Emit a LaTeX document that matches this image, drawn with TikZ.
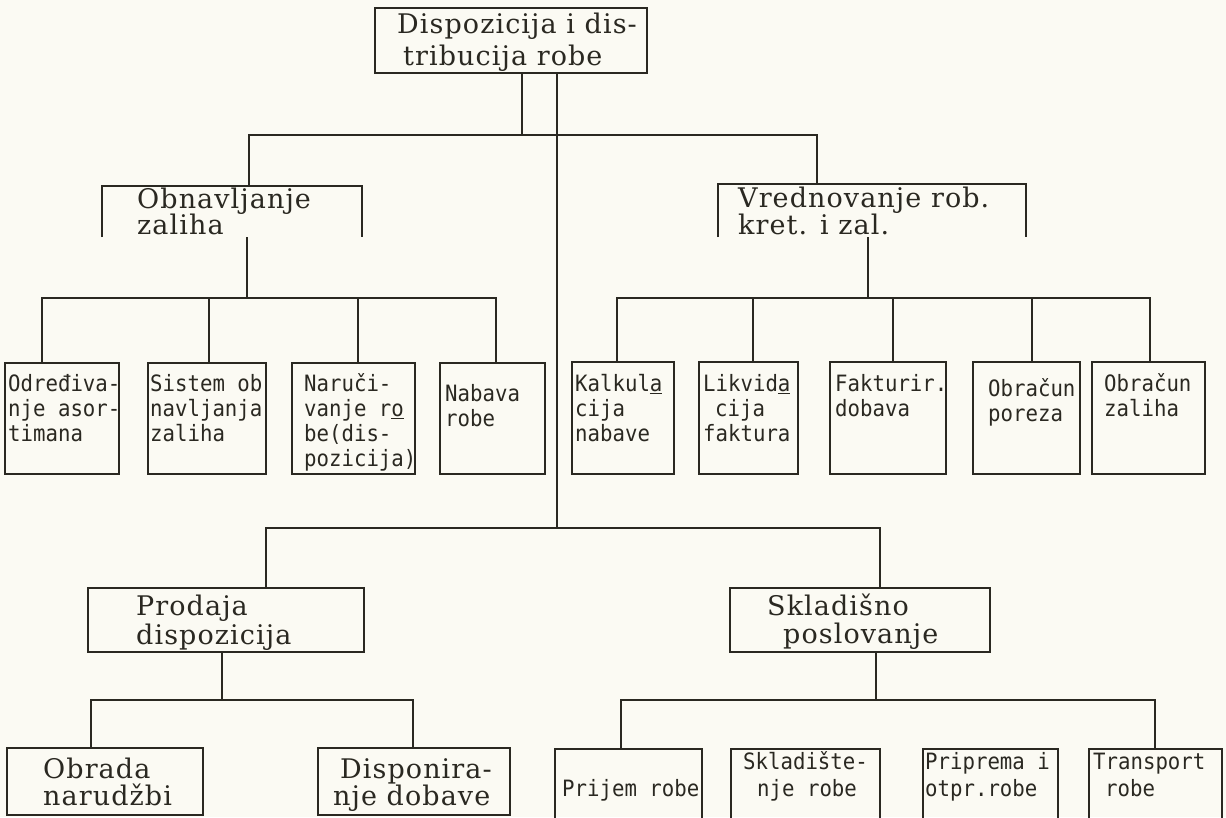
\documentclass[tikz,border=0pt]{standalone}
\usepackage{fontspec}
\newfontfamily\bigf[LetterSpace=4]{DejaVu Serif}
\newfontfamily\monof[FakeStretch=0.92]{DejaVu Sans Mono}
\definecolor{ink}{RGB}{42,40,33}
\definecolor{paper}{RGB}{251,250,243}
\begin{document}
\begin{tikzpicture}[x=1pt,y=-1pt,
  ln/.style={draw=ink,line width=1.7pt},
  bx/.style={rectangle,inner sep=0pt,outer sep=0pt,anchor=north west},
  cbx/.style={bx,draw=ink,line width=1.6pt},
  big/.style={font=\bigf\fontsize{27}{31}\selectfont,text=ink,anchor=base west,inner sep=0pt},
  mono/.style={font=\monof\fontsize{22.5}{25}\selectfont,text=ink,anchor=base west,inner sep=0pt}]
\fill[paper] (0,0) rectangle (1226,817);
\useasboundingbox (0,0) rectangle (1226,817);

% ---------- boxes ----------
\node[cbx,minimum width=272pt,minimum height=65pt] (T) at (375,8) {};
\node[bx,minimum width=260pt,minimum height=51pt] (O) at (102,186) {};
\node[bx,minimum width=308pt,minimum height=53pt] (V) at (718,184) {};
\draw[ln] (O.south west) -- (O.north west) -- (O.north east) -- (O.south east);
\draw[ln] (V.south west) -- (V.north west) -- (V.north east) -- (V.south east);

\node[cbx,minimum width=114pt,minimum height=111pt] (A1) at (5,363) {};
\node[cbx,minimum width=118pt,minimum height=111pt] (A2) at (148,363) {};
\node[cbx,minimum width=123pt,minimum height=111pt] (A3) at (292,363) {};
\node[cbx,minimum width=105pt,minimum height=111pt] (A4) at (440,363) {};

\node[cbx,minimum width=102pt,minimum height=112pt] (B1) at (572,362) {};
\node[cbx,minimum width=99pt,minimum height=112pt] (B2) at (699,362) {};
\node[cbx,minimum width=116pt,minimum height=112pt] (B3) at (830,362) {};
\node[cbx,minimum width=107pt,minimum height=112pt] (B4) at (973,362) {};
\node[cbx,minimum width=113pt,minimum height=112pt] (B5) at (1092,362) {};

\node[cbx,minimum width=276pt,minimum height=64pt] (P) at (88,588) {};
\node[cbx,minimum width=260pt,minimum height=64pt] (S) at (730,588) {};

\node[cbx,minimum width=196pt,minimum height=67pt] (Q1) at (7,748) {};
\node[cbx,minimum width=192pt,minimum height=67pt] (Q2) at (318,748) {};

\node[bx,minimum width=147pt,minimum height=80pt] (C1) at (555,749) {};
\node[bx,minimum width=149pt,minimum height=80pt] (C2) at (731,749) {};
\node[bx,minimum width=135pt,minimum height=80pt] (C3) at (923,749) {};
\node[bx,minimum width=133pt,minimum height=80pt] (C4) at (1089,749) {};
\foreach \c in {C1,C2,C3,C4}
  \draw[ln] (\c.south west) -- (\c.north west) -- (\c.north east) -- (\c.south east);

% ---------- texts ----------
\node[big] (tT1) at (397,33) {Dispozicija i dis-};
\node[big] (tT2) at (403,65) {tribucija robe};
\node[big] (tO1) at (137,208) {Obnavljanje};
\node[big] (tO2) at (137,234) {zaliha};
\node[big] (tV1) at (738,207) {Vrednovanje rob.};
\node[big] (tV2) at (738,234) {kret. i zal.};

\node[mono] (tA11) at (8,391) {Određiva-};
\node[mono] (tA12) at (8,416) {nje asor-};
\node[mono] (tA13) at (8,441) {timana};
\node[mono] (tA21) at (150,391) {Sistem ob};
\node[mono] (tA22) at (150,416) {navljanja};
\node[mono] (tA23) at (150,441) {zaliha};
\node[mono] (tA31) at (304,391) {Naruči-};
\node[mono] (tA32) at (304,416) {vanje r\underline{o}};
\node[mono] (tA33) at (304,441) {be(dis-};
\node[mono] (tA34) at (304,466) {pozicija)};
\node[mono] (tA41) at (445,401) {Nabava};
\node[mono] (tA42) at (445,426) {robe};

\node[mono] (tB11) at (575,391) {Kalkul\underline{a}};
\node[mono] (tB12) at (575,416) {cija};
\node[mono] (tB13) at (575,441) {nabave};
\node[mono] (tB21) at (703,391) {Likvid\underline{a}};
\node[mono] (tB22) at (715,416) {cija};
\node[mono] (tB23) at (703,441) {faktura};
\node[mono] (tB31) at (835,391) {Fakturir.};
\node[mono] (tB32) at (835,416) {dobava};
\node[mono] (tB41) at (988,396) {Obračun};
\node[mono] (tB42) at (988,421) {poreza};
\node[mono] (tB51) at (1104,391) {Obračun};
\node[mono] (tB52) at (1104,416) {zaliha};

\node[big] (tP1) at (136,615) {Prodaja};
\node[big] (tP2) at (136,644) {dispozicija};
\node[big] (tS1) at (767,615) {Skladišno};
\node[big] (tS2) at (783,643) {poslovanje};
\node[big] (tQ11) at (43,778) {Obrada};
\node[big] (tQ12) at (43,805) {narudžbi};
\node[big] (tQ21) at (340,778) {Disponira-};
\node[big] (tQ22) at (333,805) {nje dobave};

\node[mono] (tC1) at (562,796) {Prijem robe};
\node[mono] (tC21) at (743,769) {Skladište-};
\node[mono] (tC22) at (757,796) {nje robe};
\node[mono] (tC31) at (925,769) {Priprema i};
\node[mono] (tC32) at (925,796) {otpr.robe};
\node[mono] (tC41) at (1093,769) {Transport};
\node[mono] (tC42) at (1105,796) {robe};

% ---------- connectors ----------
\coordinate (j1) at (522,135);
\coordinate (j2) at (557,528);
\draw[ln] (T.south -| j1) -- (j1);
\draw[ln] (T.south -| j2) -- (j2);
\coordinate (h1a) at (249,135);
\coordinate (h1b) at (817,135);
\draw[ln] (h1a |- O.north) -- (h1a) -- (h1b) -- (h1b |- V.north);

\coordinate (k0) at (247,298);
\coordinate (k1) at (42,298);
\coordinate (k2) at (209,298);
\coordinate (k3) at (358,298);
\coordinate (k4) at (496,298);
\draw[ln] (k0 |- O.south) -- (k0);
\draw[ln] (k1 |- A1.north) -- (k1) -- (k4) -- (k4 |- A4.north);
\draw[ln] (k2) -- (k2 |- A2.north);
\draw[ln] (k3) -- (k3 |- A3.north);

\coordinate (m0) at (868,298);
\coordinate (m1) at (617,298);
\coordinate (m2) at (753,298);
\coordinate (m3) at (893,298);
\coordinate (m4) at (1032,298);
\coordinate (m5) at (1150,298);
\draw[ln] (m0 |- V.south) -- (m0);
\draw[ln] (m1 |- B1.north) -- (m1) -- (m5) -- (m5 |- B5.north);
\draw[ln] (m2) -- (m2 |- B2.north);
\draw[ln] (m3) -- (m3 |- B3.north);
\draw[ln] (m4) -- (m4 |- B4.north);

\coordinate (n1) at (266,528);
\coordinate (n2) at (880,528);
\draw[ln] (n1 |- P.north) -- (n1) -- (n2) -- (n2 |- S.north);

\coordinate (p0) at (222,700);
\coordinate (p1) at (91,700);
\coordinate (p2) at (413,700);
\draw[ln] (p0 |- P.south) -- (p0);
\draw[ln] (p1 |- Q1.north) -- (p1) -- (p2) -- (p2 |- Q2.north);

\coordinate (q0) at (876,700);
\coordinate (q1) at (621,700);
\coordinate (q2) at (1155,700);
\draw[ln] (q0 |- S.south) -- (q0);
\draw[ln] (q1 |- C1.north) -- (q1) -- (q2) -- (q2 |- C4.north);
\end{tikzpicture}
\end{document}
